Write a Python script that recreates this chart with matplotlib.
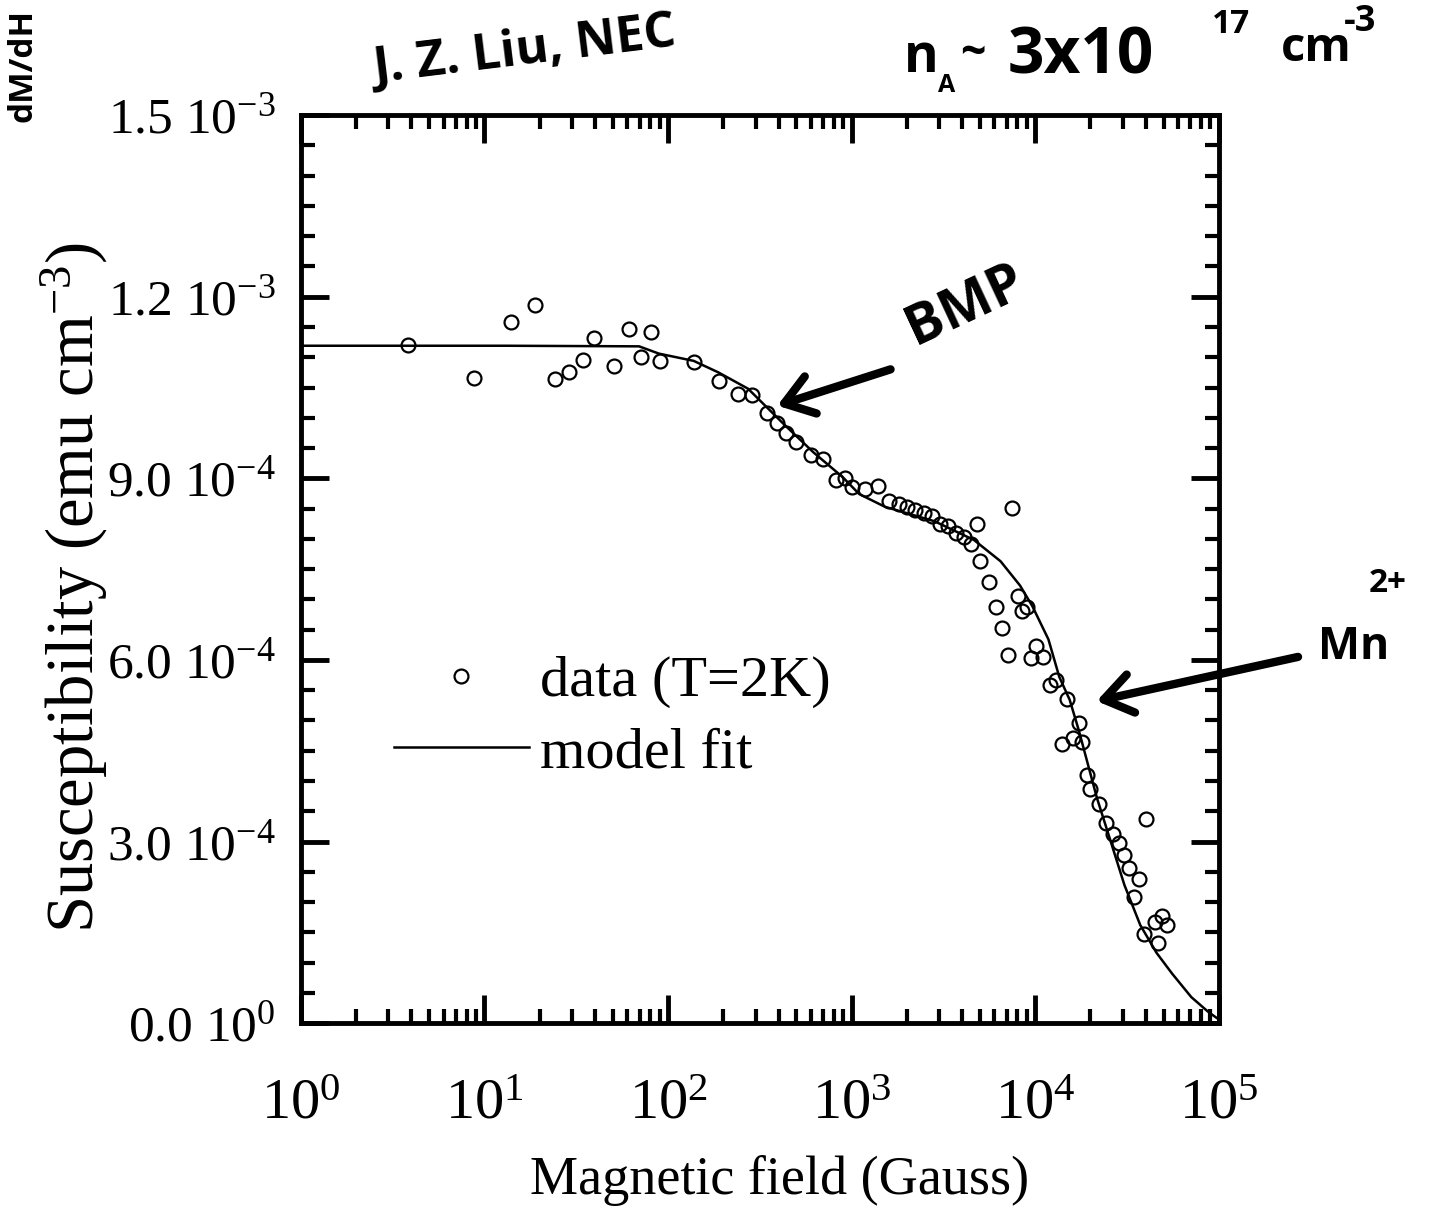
import numpy as np
import matplotlib

matplotlib.use("Agg")
import matplotlib.pyplot as plt
from matplotlib.ticker import LogLocator, MultipleLocator, NullFormatter

# susceptibility data at T = 2K
field_data = [
    3.82, 8.76, 13.9, 18.9, 24.2, 29.0, 34.3, 39.6, 50.5, 61.0,
    71.1, 81.3, 90.1, 138, 190, 240, 286, 344, 393, 438,
    496, 603, 700, 818, 916, 1010, 1189, 1384, 1600, 1812,
    2001, 2213, 2474, 2731, 3013, 3367, 3715, 4102, 4467, 4797,
    5035, 7482, 5598, 6124, 6561, 7096, 8017, 8488, 9057, 9462,
    10120, 11010, 12050, 13020, 14830, 17310, 14060, 15970, 18090, 19050,
    19910, 22180, 24370, 26500, 28460, 30570, 32380, 36560, 34570, 40290,
    39170, 45190, 48750, 52480, 46560,
]
chi_data_1e4 = [
    11.21, 10.66, 11.59, 11.86, 10.64, 10.75, 10.96, 11.32, 10.86, 11.47,
    11.00, 11.42, 10.94, 10.92, 10.61, 10.39, 10.38, 10.08, 9.91, 9.75,
    9.60, 9.39, 9.32, 8.97, 9.00, 8.86, 8.82, 8.88, 8.63, 8.58,
    8.52, 8.47, 8.42, 8.38, 8.24, 8.21, 8.09, 8.03, 7.91, 8.24,
    7.63, 8.51, 7.28, 6.88, 6.53, 6.08, 7.06, 6.80, 6.88, 6.03,
    6.23, 6.04, 5.58, 5.66, 5.35, 4.95, 4.61, 4.71, 4.65, 4.10,
    3.86, 3.62, 3.30, 3.13, 2.98, 2.78, 2.56, 2.38, 2.08, 3.37,
    1.47, 1.67, 1.77, 1.62, 1.33,
]

# model fit curve
field_fit = [
    1, 3.72, 13.1, 69.6, 89.2, 138, 188, 273, 429, 619,
    894, 1100, 1518, 2831, 4645, 6474, 8260, 9640, 11800, 13520,
    15410, 17260, 21680, 25470, 30620, 37330, 45810, 55590, 70790, 87270,
    100000,
]
chi_fit_1e4 = [
    11.19, 11.19, 11.19, 11.18, 11.06, 10.94, 10.75, 10.48, 9.89, 9.43,
    9.02, 8.74, 8.53, 8.29, 7.98, 7.63, 7.23, 6.89, 6.34, 5.72,
    5.34, 4.84, 3.72, 3.05, 2.28, 1.62, 1.16, 0.82, 0.43, 0.19,
    0.06,
]

y_ticks = [0, 3e-4, 6e-4, 9e-4, 1.2e-3, 1.5e-3]
y_tick_labels = [
    r"0.0 10$^{\mathregular{0}}$",
    r"3.0 10$^{\mathregular{-4}}$",
    r"6.0 10$^{\mathregular{-4}}$",
    r"9.0 10$^{\mathregular{-4}}$",
    r"1.2 10$^{\mathregular{-3}}$",
    r"1.5 10$^{\mathregular{-3}}$",
]
x_ticks = [1, 10, 100, 1000, 10000, 100000]
x_tick_labels = [r"10$^{\mathregular{%d}}$" % i for i in range(6)]

plt.rcParams["font.family"] = ["Liberation Serif", "DejaVu Serif"]
plt.rcParams["mathtext.fontset"] = "custom"
plt.rcParams["mathtext.rm"] = "Liberation Serif"
plt.rcParams["mathtext.it"] = "Liberation Serif:italic"
plt.rcParams["mathtext.bf"] = "Liberation Serif:bold"

fig = plt.figure(figsize=(14.39, 12.18), dpi=100)
ax = fig.add_axes([0.209, 0.160, 0.638, 0.7455])

fit_line, = ax.plot(
    field_fit, np.array(chi_fit_1e4) * 1e-4, color="black", lw=1.8, label="model fit"
)
data_pts, = ax.plot(
    field_data,
    np.array(chi_data_1e4) * 1e-4,
    "o",
    ls="none",
    mfc="none",
    mec="black",
    ms=10,
    mew=1.6,
    label="data (T=2K)",
)

ax.set_xscale("log")
ax.set_xlim(1, 1e5)
ax.set_ylim(0, 1.5e-3)

ax.set_xticks(x_ticks)
ax.set_xticklabels(x_tick_labels, fontsize=42)
ax.xaxis.set_minor_locator(LogLocator(base=10, subs=np.arange(2, 10), numticks=30))
ax.xaxis.set_minor_formatter(NullFormatter())
ax.set_yticks(y_ticks)
ax.set_yticklabels(y_tick_labels, fontsize=37)
ax.yaxis.set_minor_locator(MultipleLocator(5e-5))

ax.tick_params(which="both", direction="in", top=True, right=True)
ax.tick_params(which="major", length=20, width=3.5)
ax.tick_params(which="minor", length=10, width=3)
ax.tick_params(axis="x", which="major", pad=40)
ax.tick_params(axis="y", which="major", pad=18)
for sp in ax.spines.values():
    sp.set_linewidth(3.5)

ax.set_xlabel("Magnetic field (Gauss)", fontsize=39)
ax.set_ylabel(r"Susceptibility (emu cm$^{\mathregular{-3}}$)", fontsize=48)
ax.xaxis.set_label_coords(0.522, -0.145)
ax.yaxis.set_label_coords(-0.208, 0.48)

ax.legend(
    handles=[data_pts, fit_line],
    loc="upper left",
    bbox_to_anchor=(0.102, 0.405),
    frameon=False,
    fontsize=42,
    handlelength=2.3,
    handletextpad=0.2,
    labelspacing=0.32,
    borderpad=0,
    borderaxespad=0,
)

# handwritten notes on the scanned page
hand = dict(family=["Open Sans", "DejaVu Sans"], fontweight="bold", color="black")
fig.text(0.258, 0.958, "J. Z. Liu, NEC", fontsize=36, rotation=7, ha="left", va="center", **hand)
fig.text(0.628, 0.952, "n", fontsize=38, ha="left", va="center", **hand)
fig.text(0.652, 0.930, "A", fontsize=18, ha="left", va="center", **hand)
fig.text(0.667, 0.955, "~", fontsize=32, ha="left", va="center", **hand)
fig.text(0.700, 0.953, "3x10", fontsize=46, ha="left", va="center", **hand)
fig.text(0.842, 0.980, "17", fontsize=24, ha="left", va="center", **hand)
fig.text(0.890, 0.960, "cm", fontsize=34, ha="left", va="center", **hand)
fig.text(0.934, 0.982, "-3", fontsize=26, ha="left", va="center", **hand)
fig.text(0.016, 0.946, "dM/dH", fontsize=24, rotation=90, ha="center", va="center", **hand)
fig.text(0.671, 0.749, "BMP", fontsize=40, rotation=25, ha="center", va="center", **hand)
fig.text(0.916, 0.468, "Mn", fontsize=32, ha="left", va="center", **hand)
fig.text(0.951, 0.521, "2+", fontsize=24, ha="left", va="center", **hand)

arrow = dict(arrowstyle="->,head_length=0.5,head_width=0.35", lw=6, color="black",
             mutation_scale=40, shrinkA=0, shrinkB=0)
ax.annotate("", xy=(394, 10.2e-4), xytext=(1630, 10.8e-4), arrowprops=arrow)
ax.annotate("", xy=(21600, 5.32e-4), xytext=(270000, 6.05e-4), arrowprops=arrow,
            annotation_clip=False)

fig.savefig("out.png", dpi=100)
